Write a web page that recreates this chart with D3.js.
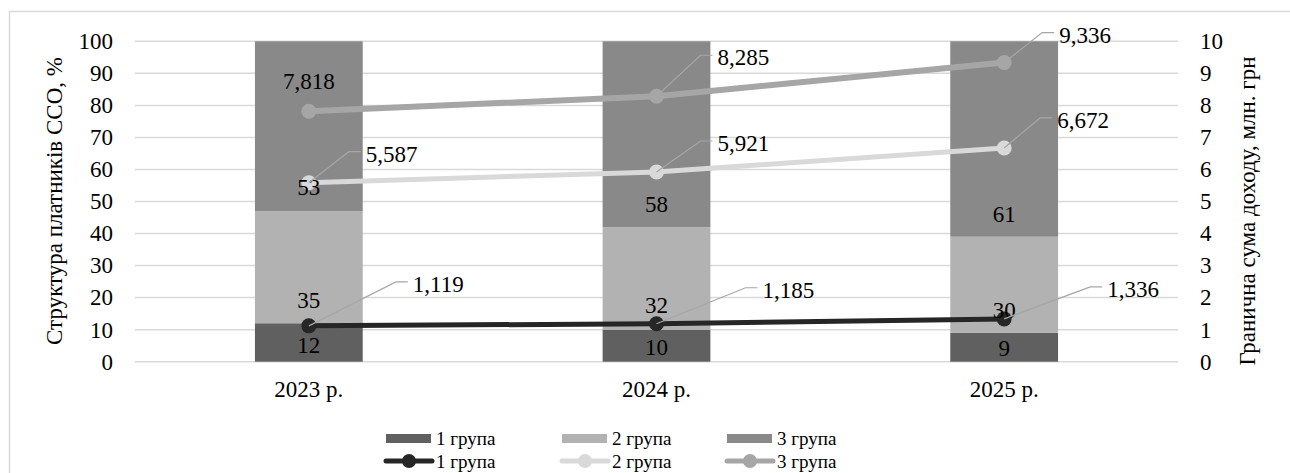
<!DOCTYPE html>
<html>
<head>
<meta charset="utf-8">
<script src="https://cdn.jsdelivr.net/npm/d3@7"></script>
<style>
  html, body { margin: 0; padding: 0; background: #fff; }
  svg { display: block; }
  svg text { font-family: "Liberation Serif", "Times New Roman", Tinos, "DejaVu Serif", serif; }
</style>
</head>
<body>
<svg id="chart" width="1290" height="473"></svg>
<script>
// ---- data ----
const years = ["2023 р.", "2024 р.", "2025 р."];
const groups = ["1 група", "2 група", "3 група"];

// structure of payers, %
const share1 = [12, 10, 9];
const share2 = [35, 32, 30];
const share3 = [53, 58, 61];

// income limit, mln UAH
const limit1 = [1.119, 1.185, 1.336];
const limit2 = [5.587, 5.921, 6.672];
const limit3 = [7.818, 8.285, 9.336];

const leftTicks = [0, 10, 20, 30, 40, 50, 60, 70, 80, 90, 100];
const rightTicks = [0, 1, 2, 3, 4, 5, 6, 7, 8, 9, 10];

const leftTitle = "Структура платників ССО, %";
const rightTitle = "Гранична сума доходу, млн. грн";

// ---- styling & layout ----
const barColors = ["#606060", "#b2b2b2", "#898989"];
const lineColors = ["#262626", "#d9d9d9", "#a6a6a6"];
const gridColor = "#d9d9d9";
const fontSize = 23;

const plot = { left: 135, right: 1178, top: 41.3, bottom: 361.7 };

// where the segment value labels sit, on the % axis
const segLabelAt = [
  [5.2, 4.6, 4.3],
  [19.2, 17.7, 16.2],
  [54.6, 49.1, 46.0]
];
// leader elbow offsets (dx, dy) for line value labels; null = label above point, no leader
const leader = [
  [[87, -44], [89, -36], [86, -32]],
  [[40, -31], [44, -31], [36, -30]],
  [null, [44, -41], [38, -30]]
];

const svg = d3.select("#chart");

// outer chart border
svg.append("rect")
  .attr("x", 9.5).attr("y", 11.5)
  .attr("width", 1400).attr("height", 600)
  .attr("fill", "none").attr("stroke", gridColor).attr("stroke-width", 1.5);

const x = d3.scaleBand().domain(years)
  .range([plot.left, plot.right])
  .paddingInner(0.69).paddingOuter(0.345);
const yL = d3.scaleLinear().domain([0, 100]).range([plot.bottom, plot.top]);
const yR = d3.scaleLinear().domain([0, 10]).range([plot.bottom, plot.top]);

// gridlines
svg.append("g").selectAll("line").data(leftTicks).join("line")
  .attr("x1", plot.left).attr("x2", plot.right)
  .attr("y1", d => yL(d)).attr("y2", d => yL(d))
  .attr("stroke", gridColor).attr("stroke-width", 1.5);

function styleAxis(g) {
  g.select(".domain").remove();
  g.attr("font-family", null).attr("font-size", null);
  g.selectAll("text").attr("font-size", fontSize).attr("fill", "#000");
}

// left axis
svg.append("g")
  .attr("transform", `translate(${plot.left},0)`)
  .call(d3.axisLeft(yL).tickValues(leftTicks).tickSize(0).tickPadding(22))
  .call(styleAxis);

// right axis
svg.append("g")
  .attr("transform", `translate(${plot.right},0)`)
  .call(d3.axisRight(yR).tickValues(rightTicks).tickSize(0).tickPadding(22))
  .call(styleAxis);

// category axis
svg.append("g")
  .attr("transform", `translate(0,${plot.bottom})`)
  .call(d3.axisBottom(x).tickSize(0).tickPadding(19))
  .call(styleAxis);

// axis titles
svg.append("text")
  .attr("transform", `translate(62,201) rotate(-90)`)
  .attr("text-anchor", "middle")
  .attr("font-size", fontSize).attr("fill", "#000")
  .text(leftTitle);
svg.append("text")
  .attr("transform", `translate(1255,211) rotate(-90)`)
  .attr("text-anchor", "middle")
  .attr("font-size", fontSize).attr("fill", "#000")
  .text(rightTitle);

// stacked bars
const shares = [share1, share2, share3];
const rows = years.map((y, i) => ({ year: y, g0: share1[i], g1: share2[i], g2: share3[i] }));
const stack = d3.stack().keys(["g0", "g1", "g2"])(rows);

svg.append("g").selectAll("g").data(stack).join("g")
  .attr("fill", (d, i) => barColors[i])
  .selectAll("rect").data(d => d).join("rect")
  .attr("x", d => x(d.data.year))
  .attr("width", x.bandwidth())
  .attr("y", d => yL(d[1]))
  .attr("height", d => yL(d[0]) - yL(d[1]));

// lines with markers
const limits = [limit1, limit2, limit3];
const cx = i => x(years[i]) + x.bandwidth() / 2;
const lineGen = d3.line().x((d, i) => cx(i)).y(d => yR(d));
const linesG = svg.append("g");
limits.forEach((arr, k) => {
  linesG.append("path")
    .attr("d", lineGen(arr))
    .attr("fill", "none")
    .attr("stroke", lineColors[k])
    .attr("stroke-width", k === 2 ? 6 : 5)
    .attr("stroke-linecap", "round");
  linesG.selectAll(null).data(arr).join("circle")
    .attr("cx", (d, i) => cx(i))
    .attr("cy", d => yR(d))
    .attr("r", 7.5)
    .attr("fill", lineColors[k]);
});

// segment value labels
const labelsG = svg.append("g");
shares.forEach((arr, k) => {
  labelsG.selectAll(null).data(arr).join("text")
    .attr("x", (d, i) => cx(i))
    .attr("y", (d, i) => yL(segLabelAt[k][i]))
    .attr("dy", "0.35em")
    .attr("text-anchor", "middle")
    .attr("font-size", fontSize).attr("fill", "#000")
    .text(d => d);
});

// line value labels with leader lines
const fmt = d3.format(".3f");
limits.forEach((arr, k) => {
  arr.forEach((v, i) => {
    const px = cx(i), py = yR(v);
    const label = fmt(v).replace(".", ",");
    const L = leader[k][i];
    if (!L) {
      labelsG.append("text")
        .attr("x", px).attr("y", py - 30).attr("dy", "0.35em")
        .attr("text-anchor", "middle")
        .attr("font-size", fontSize).attr("fill", "#000")
        .text(label);
      return;
    }
    const ex = px + L[0], ey = py + L[1];
    labelsG.append("polyline")
      .attr("points", `${px},${py} ${ex},${ey} ${ex + 12},${ey}`)
      .attr("fill", "none").attr("stroke", "#a6a6a6").attr("stroke-width", 1.2);
    labelsG.append("text")
      .attr("x", ex + 17).attr("y", ey + 2).attr("dy", "0.35em")
      .attr("font-size", fontSize).attr("fill", "#000")
      .text(label);
  });
});

// legend
const legX = [386, 562, 727];
const leg = svg.append("g").attr("font-size", 19).attr("fill", "#000");
groups.forEach((g, i) => {
  leg.append("rect").attr("x", legX[i]).attr("y", 434).attr("width", 45).attr("height", 9)
    .attr("fill", barColors[i]);
  leg.append("text").attr("x", legX[i] + 50).attr("y", 438).attr("dy", "0.35em").text(g);
  leg.append("line").attr("x1", legX[i]).attr("x2", legX[i] + 46)
    .attr("y1", 461).attr("y2", 461)
    .attr("stroke", lineColors[i]).attr("stroke-width", 5).attr("stroke-linecap", "round");
  leg.append("circle").attr("cx", legX[i] + 23).attr("cy", 461).attr("r", 7)
    .attr("fill", lineColors[i]);
  leg.append("text").attr("x", legX[i] + 50).attr("y", 461).attr("dy", "0.35em").text(g);
});
</script>
</body>
</html>
